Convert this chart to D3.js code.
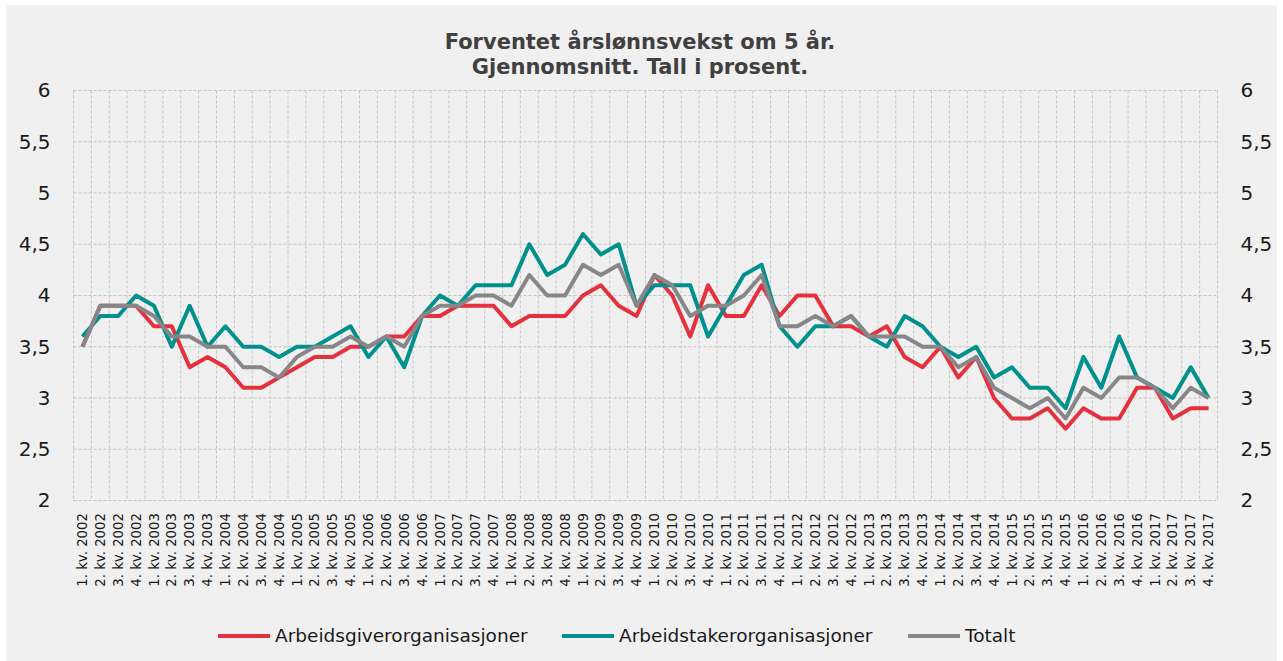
<!DOCTYPE html>
<html lang="no">
<head>
  <meta charset="UTF-8">
  <title>Forventet årslønnsvekst</title>
  <script src="https://d3js.org/d3.v7.min.js"></script>
  <style>
    body { margin: 0; background: #fff; font-family: "DejaVu Sans", Verdana, sans-serif; }
    .grid line { stroke: #c4c4c4; stroke-dasharray: 3,2; stroke-width: 1; }
    .tick text { fill: #1a1a1a; }
  </style>
</head>
<body>
  <div id="chart"></div>

  <script>
    // kvartaler 2002-2017
    const years = d3.range(2002, 2018);
    const quarters = ["1. kv.", "2. kv.", "3. kv.", "4. kv."];
    const categories = years.flatMap(y => quarters.map(q => q + " " + y));

    const arbeidsgiver = [
      3.5, 3.9, 3.9, 3.9, 3.7, 3.7, 3.3, 3.4, 3.3, 3.1,
      3.1, 3.2, 3.3, 3.4, 3.4, 3.5, 3.5, 3.6, 3.6, 3.8,
      3.8, 3.9, 3.9, 3.9, 3.7, 3.8, 3.8, 3.8, 4.0, 4.1,
      3.9, 3.8, 4.2, 4.0, 3.6, 4.1, 3.8, 3.8, 4.1, 3.8,
      4.0, 4.0, 3.7, 3.7, 3.6, 3.7, 3.4, 3.3, 3.5, 3.2,
      3.4, 3.0, 2.8, 2.8, 2.9, 2.7, 2.9, 2.8, 2.8, 3.1,
      3.1, 2.8, 2.9, 2.9
    ];
    const arbeidstaker = [
      3.6, 3.8, 3.8, 4.0, 3.9, 3.5, 3.9, 3.5, 3.7, 3.5,
      3.5, 3.4, 3.5, 3.5, 3.6, 3.7, 3.4, 3.6, 3.3, 3.8,
      4.0, 3.9, 4.1, 4.1, 4.1, 4.5, 4.2, 4.3, 4.6, 4.4,
      4.5, 3.9, 4.1, 4.1, 4.1, 3.6, 3.9, 4.2, 4.3, 3.7,
      3.5, 3.7, 3.7, 3.8, 3.6, 3.5, 3.8, 3.7, 3.5, 3.4,
      3.5, 3.2, 3.3, 3.1, 3.1, 2.9, 3.4, 3.1, 3.6, 3.2,
      3.1, 3.0, 3.3, 3.0
    ];
    const totalt = [
      3.5, 3.9, 3.9, 3.9, 3.8, 3.6, 3.6, 3.5, 3.5, 3.3,
      3.3, 3.2, 3.4, 3.5, 3.5, 3.6, 3.5, 3.6, 3.5, 3.8,
      3.9, 3.9, 4.0, 4.0, 3.9, 4.2, 4.0, 4.0, 4.3, 4.2,
      4.3, 3.9, 4.2, 4.1, 3.8, 3.9, 3.9, 4.0, 4.2, 3.7,
      3.7, 3.8, 3.7, 3.8, 3.6, 3.6, 3.6, 3.5, 3.5, 3.3,
      3.4, 3.1, 3.0, 2.9, 3.0, 2.8, 3.1, 3.0, 3.2, 3.2,
      3.1, 2.9, 3.1, 3.0
    ];
    const yTicks = [2, 2.5, 3, 3.5, 4, 4.5, 5, 5.5, 6];
    const titleLines = ["Forventet årslønnsvekst om 5 år.", "Gjennomsnitt. Tall i prosent."];

    const series = [
      { name: "Arbeidsgiverorganisasjoner", values: arbeidsgiver, color: "#e5303e" },
      { name: "Arbeidstakerorganisasjoner", values: arbeidstaker, color: "#00908d" },
      { name: "Totalt", values: totalt, color: "#87878a" }
    ];

    const width = 1283, height = 661;
    const plot = { left: 73.5, right: 1217.5, top: 90.5, bottom: 500.5 };

    const svg = d3.select("#chart").append("svg")
      .attr("width", width)
      .attr("height", height);

    svg.append("rect")
      .attr("x", 6).attr("y", 5)
      .attr("width", 1271).attr("height", 656)
      .attr("fill", "#f0f0f0");

    const x = d3.scaleBand().domain(categories).range([plot.left, plot.right]);
    const y = d3.scaleLinear().domain([2, 6]).range([plot.bottom, plot.top]);
    const cx = c => x(c) + x.bandwidth() / 2;

    // rutenett
    const grid = svg.append("g").attr("class", "grid");
    grid.selectAll("line.h").data(yTicks).enter().append("line")
      .attr("x1", plot.left).attr("x2", plot.right)
      .attr("y1", d => y(d)).attr("y2", d => y(d));
    const bounds = categories.map(c => x(c)).concat([x.range()[1]]);
    grid.selectAll("line.v").data(bounds).enter().append("line")
      .attr("x1", d => d).attr("x2", d => d)
      .attr("y1", plot.top).attr("y2", plot.bottom);

    const fmt = d => String(d).replace(".", ",");

    const yLeft = svg.append("g")
      .attr("transform", `translate(${plot.left - 20},0)`)
      .call(d3.axisLeft(y).tickValues(yTicks).tickFormat(fmt).tickSize(0));
    const yRight = svg.append("g")
      .attr("transform", `translate(${plot.right + 20},0)`)
      .call(d3.axisRight(y).tickValues(yTicks).tickFormat(fmt).tickSize(0));
    [yLeft, yRight].forEach(g => {
      g.select(".domain").remove();
      g.selectAll("text").attr("font-size", 20).attr("font-family", "DejaVu Sans, Verdana, sans-serif");
    });

    // kategorietiketter, rotert
    svg.append("g").selectAll("text").data(categories).enter().append("text")
      .attr("transform", d => `translate(${cx(d)},513) rotate(-90)`)
      .attr("text-anchor", "end")
      .attr("dy", "0.35em")
      .attr("font-size", 13.3)
      .attr("fill", "#1a1a1a")
      .text(d => d);

    const line = d3.line()
      .x((d, i) => cx(categories[i]))
      .y(d => y(d));

    svg.append("g").selectAll("path").data(series).enter().append("path")
      .attr("d", d => line(d.values))
      .attr("fill", "none")
      .attr("stroke", d => d.color)
      .attr("stroke-width", 4)
      .attr("stroke-linejoin", "round");

    svg.append("g").selectAll("text").data(titleLines).enter().append("text")
      .attr("x", 640)
      .attr("y", (d, i) => 49 + i * 25)
      .attr("text-anchor", "middle")
      .attr("font-size", 21)
      .attr("font-weight", "bold")
      .attr("fill", "#404040")
      .text(d => d);

    // forklaring
    const legendX = [218, 562, 908];
    const legend = svg.append("g").selectAll("g").data(series).enter().append("g")
      .attr("transform", (d, i) => `translate(${legendX[i]},636)`);
    legend.append("line")
      .attr("x1", 0).attr("x2", 52)
      .attr("stroke", d => d.color)
      .attr("stroke-width", 4);
    legend.append("text")
      .attr("x", 57)
      .attr("dy", "0.35em")
      .attr("font-size", 18.5)
      .attr("fill", "#1a1a1a")
      .text(d => d.name);
  </script>
</body>
</html>
